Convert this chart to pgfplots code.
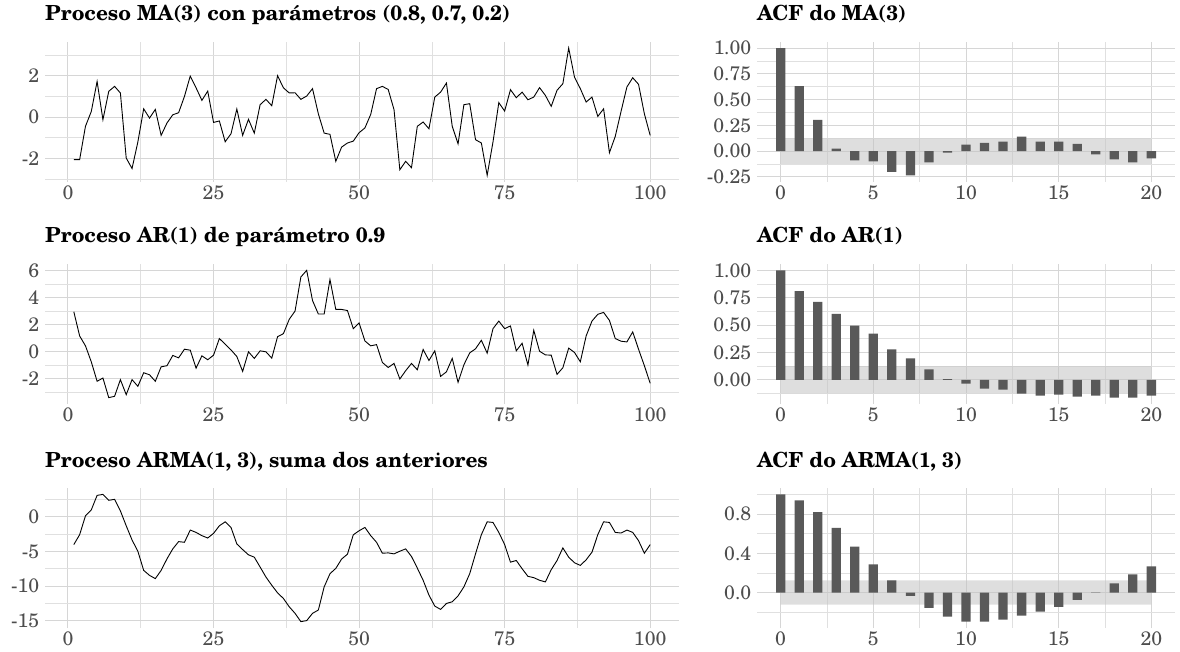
\documentclass[border=0pt]{standalone}
\usepackage{fontspec}
\setmainfont{TeX Gyre Schola}
\usepackage{pgfplots}
\pgfplotsset{compat=1.18}
\definecolor{gridc}{HTML}{D6D6D6}
\definecolor{tickc}{HTML}{4D4D4D}
\definecolor{barc}{HTML}{595959}
\definecolor{bandc}{HTML}{C3C3C3}

\pgfplotsset{
  base/.style={
    scale only axis,
    anchor=south west,
    axis line style={draw=none},
    major tick length=0pt, minor tick length=0pt,
    grid=both,
    major grid style={draw=gridc, line width=1.0pt},
    minor grid style={draw=gridc!75, line width=0.55pt},
    tick label style={font=\fontsize{19.5}{22}\selectfont, text=tickc},
    xticklabel style={inner sep=0pt, yshift=-3.5pt},
    yticklabel style={inner sep=0pt, xshift=-5.5pt},
    title style={font=\fontsize{20.8}{24}\selectfont\bfseries, anchor=base west, at={(0,1)}, yshift=15pt, inner sep=0pt},
    height=140pt,
  },
  ts/.style={base, width=634pt, xmin=-3.95, xmax=104.95,
    xtick={0,25,50,75,100}, xticklabels={0,25,50,75,100},
    minor xtick={12.5,37.5,62.5,87.5}},
  acf/.style={base, width=418pt, xmin=-1.275, xmax=21.275,
    xtick={0,5,10,15,20}, xticklabels={0,5,10,15,20},
    minor xtick={2.5,7.5,12.5,17.5}},
}

\begin{document}
\begin{tikzpicture}
\path[use as bounding box] (0,0) rectangle (1180pt,651pt);

% ---------- Row 1 left: MA(3)
\begin{axis}[ts, at={(45pt,469.3pt)},
  title={Proceso MA(3) con parámetros (0.8, 0.7, 0.2)},
  ymin=-3.14, ymax=3.66,
  ytick={-2,0,2}, yticklabels={-2,0,2}, minor ytick={-3,-1,1,3}]
\addplot[black, line width=0.9pt] coordinates {
(1,-2.07)(2,-2.07)(3,-0.45)(4,0.27)(5,1.73)(6,-0.13)(7,1.25)(8,1.49)(9,1.17)(10,-1.99)
(11,-2.50)(12,-1.21)(13,0.40)(14,-0.05)(15,0.37)(16,-0.89)(17,-0.29)(18,0.11)(19,0.21)(20,1.00)
(21,1.99)(22,1.42)(23,0.81)(24,1.26)(25,-0.26)(26,-0.19)(27,-1.20)(28,-0.81)(29,0.39)(30,-0.89)
(31,-0.11)(32,-0.78)(33,0.60)(34,0.86)(35,0.55)(36,2.01)(37,1.42)(38,1.17)(39,1.18)(40,0.86)
(41,1.02)(42,1.38)(43,0.16)(44,-0.78)(45,-0.84)(46,-2.15)(47,-1.46)(48,-1.26)(49,-1.17)(50,-0.76)
(51,-0.53)(52,0.13)(53,1.38)(54,1.49)(55,1.34)(56,0.36)(57,-2.56)(58,-2.15)(59,-2.46)(60,-0.45)
(61,-0.24)(62,-0.57)(63,0.97)(64,1.21)(65,1.65)(66,-0.45)(67,-1.30)(68,0.60)(69,0.65)(70,-1.10)
(71,-1.26)(72,-2.83)(73,-1.21)(74,0.70)(75,0.29)(76,1.33)(77,0.94)(78,1.21)(79,0.84)(80,0.97)
(81,1.43)(82,1.05)(83,0.52)(84,1.30)(85,1.62)(86,3.35)(87,1.94)(88,1.38)(89,0.73)(90,0.97)
(91,0.03)(92,0.40)(93,-1.73)(94,-0.94)(95,0.28)(96,1.46)(97,1.91)(98,1.59)(99,0.16)(100,-0.89)
};
\end{axis}

% ---------- Row 1 right: ACF MA(3)
\begin{axis}[acf, at={(757pt,469.3pt)},
  title={ACF do MA(3)},
  ymin=-0.296, ymax=1.062,
  ytick={-0.25,0,0.25,0.5,0.75,1}, yticklabels={-0.25,0.00,0.25,0.50,0.75,1.00},
  minor ytick={-0.125,0.125,0.375,0.625,0.875}]
\addplot[draw=none, fill=bandc, fill opacity=0.55] coordinates {(0,-0.124)(20,-0.124)(20,0.124)(0,0.124)(0,-0.124)};
\addplot[ybar, bar width=0.5, fill=barc, draw=none] coordinates {
(0,1.0)(1,0.63)(2,0.304)(3,0.026)(4,-0.09)(5,-0.10)(6,-0.20)(7,-0.234)(8,-0.109)(9,-0.013)
(10,0.064)(11,0.08)(12,0.093)(13,0.141)(14,0.093)(15,0.093)(16,0.07)(17,-0.032)(18,-0.08)(19,-0.109)(20,-0.07)
};
\end{axis}

% ---------- Row 2 left: AR(1)
\begin{axis}[ts, at={(45pt,247pt)},
  title={Proceso AR(1) de parámetro 0.9},
  ymin=-3.88, ymax=6.47,
  ytick={-2,0,2,4,6}, yticklabels={-2,0,2,4,6}, minor ytick={-3,-1,1,3,5}]
\addplot[black, line width=0.9pt] coordinates {
(1,2.94)(2,1.15)(3,0.42)(4,-0.76)(5,-2.20)(6,-1.96)(7,-3.41)(8,-3.31)(9,-2.08)(10,-3.19)
(11,-2.08)(12,-2.57)(13,-1.57)(14,-1.72)(15,-2.20)(16,-1.13)(17,-1.05)(18,-0.29)(19,-0.47)(20,0.17)
(21,0.10)(22,-1.23)(23,-0.32)(24,-0.61)(25,-0.27)(26,0.96)(27,0.54)(28,0.12)(29,-0.37)(30,-1.47)
(31,-0.02)(32,-0.51)(33,0.05)(34,-0.02)(35,-0.49)(36,1.10)(37,1.32)(38,2.38)(39,2.99)(40,5.51)
(41,6.00)(42,3.77)(43,2.77)(44,2.77)(45,5.32)(46,3.11)(47,3.11)(48,3.03)(49,1.69)(50,2.11)
(51,0.78)(52,0.42)(53,0.51)(54,-0.81)(55,-1.18)(56,-0.88)(57,-2.03)(58,-1.42)(59,-0.88)(60,-1.35)
(61,0.15)(62,-0.66)(63,0.05)(64,-1.84)(65,-1.50)(66,-0.51)(67,-2.28)(68,-0.98)(69,-0.10)(70,0.20)
(71,0.83)(72,-0.12)(73,1.69)(74,2.25)(75,1.69)(76,1.89)(77,0.05)(78,0.61)(79,-1.00)(80,1.57)
(81,0.02)(82,-0.25)(83,-0.27)(84,-1.69)(85,-1.20)(86,0.25)(87,-0.07)(88,-0.76)(89,1.15)(90,2.25)
(91,2.75)(92,2.89)(93,2.30)(94,0.96)(95,0.76)(96,0.71)(97,1.45)(98,0.17)(99,-1.05)(100,-2.35)
};
\end{axis}

% ---------- Row 2 right: ACF AR(1)
\begin{axis}[acf, at={(757pt,247pt)},
  title={ACF do AR(1)},
  ymin=-0.221, ymax=1.058,
  ytick={0,0.25,0.5,0.75,1}, yticklabels={0.00,0.25,0.50,0.75,1.00},
  minor ytick={-0.125,0.125,0.375,0.625,0.875}]
\addplot[draw=none, fill=bandc, fill opacity=0.55] coordinates {(0,-0.124)(20,-0.124)(20,0.124)(0,0.124)(0,-0.124)};
\addplot[ybar, bar width=0.5, fill=barc, draw=none] coordinates {
(0,1.0)(1,0.81)(2,0.711)(3,0.602)(4,0.494)(5,0.422)(6,0.277)(7,0.196)(8,0.096)(9,0.006)
(10,-0.036)(11,-0.081)(12,-0.09)(13,-0.126)(14,-0.145)(15,-0.136)(16,-0.154)(17,-0.145)(18,-0.163)(19,-0.163)(20,-0.145)
};
\end{axis}

% ---------- Row 3 left: ARMA(1,3)
\begin{axis}[ts, at={(45pt,23pt)},
  title={Proceso ARMA(1, 3), suma dos anteriores},
  ymin=-16.07, ymax=4.17,
  ytick={-15,-10,-5,0}, yticklabels={-15,-10,-5,0}, minor ytick={-12.5,-7.5,-2.5,2.5}]
\addplot[black, line width=0.9pt] coordinates {
(1,-4.01)(2,-2.58)(3,0.14)(4,1.00)(5,3.10)(6,3.25)(7,2.39)(8,2.53)(9,0.86)(10,-1.29)
(11,-3.34)(12,-4.97)(13,-7.74)(14,-8.46)(15,-8.93)(16,-7.74)(17,-6.07)(18,-4.63)(19,-3.58)(20,-3.68)
(21,-1.91)(22,-2.25)(23,-2.72)(24,-3.06)(25,-2.39)(26,-1.29)(27,-0.72)(28,-1.53)(29,-3.92)(30,-4.73)
(31,-5.49)(32,-5.83)(33,-7.26)(34,-8.70)(35,-9.89)(36,-10.99)(37,-11.80)(38,-13.00)(39,-13.95)(40,-15.15)
(41,-15.00)(42,-13.95)(43,-13.47)(44,-10.13)(45,-8.22)(46,-7.45)(47,-6.10)(48,-5.40)(49,-2.60)(50,-2.01)
(51,-1.53)(52,-2.72)(53,-3.68)(54,-5.26)(55,-5.21)(56,-5.35)(57,-4.97)(58,-4.63)(59,-5.73)(60,-7.41)
(61,-9.17)(62,-11.32)(63,-12.90)(64,-13.38)(65,-12.52)(66,-12.28)(67,-11.42)(68,-10.13)(69,-8.22)(70,-5.35)
(71,-2.58)(72,-0.72)(73,-0.81)(74,-2.25)(75,-4.01)(76,-6.55)(77,-6.31)(78,-7.50)(79,-8.60)(80,-8.79)
(81,-9.17)(82,-9.41)(83,-7.64)(84,-6.31)(85,-4.49)(86,-5.83)(87,-6.64)(88,-7.02)(89,-6.21)(90,-5.11)
(91,-2.58)(92,-0.72)(93,-0.81)(94,-2.25)(95,-2.34)(96,-1.91)(97,-2.25)(98,-3.44)(99,-5.26)(100,-4.01)
};
\end{axis}

% ---------- Row 3 right: ACF ARMA(1,3)
\begin{axis}[acf, at={(757pt,23pt)},
  title={ACF do ARMA(1, 3)},
  ymin=-0.361, ymax=1.065,
  ytick={0,0.4,0.8}, yticklabels={0.0,0.4,0.8},
  minor ytick={-0.2,0.2,0.6,1.0}]
\addplot[draw=none, fill=bandc, fill opacity=0.55] coordinates {(0,-0.124)(20,-0.124)(20,0.124)(0,0.124)(0,-0.124)};
\addplot[ybar, bar width=0.5, fill=barc, draw=none] coordinates {
(0,1.0)(1,0.94)(2,0.82)(3,0.66)(4,0.467)(5,0.286)(6,0.124)(7,-0.034)(8,-0.155)(9,-0.245)
(10,-0.296)(11,-0.296)(12,-0.276)(13,-0.235)(14,-0.195)(15,-0.145)(16,-0.074)(17,-0.003)(18,0.094)(19,0.185)(20,0.266)
};
\end{axis}
\end{tikzpicture}
\end{document}
